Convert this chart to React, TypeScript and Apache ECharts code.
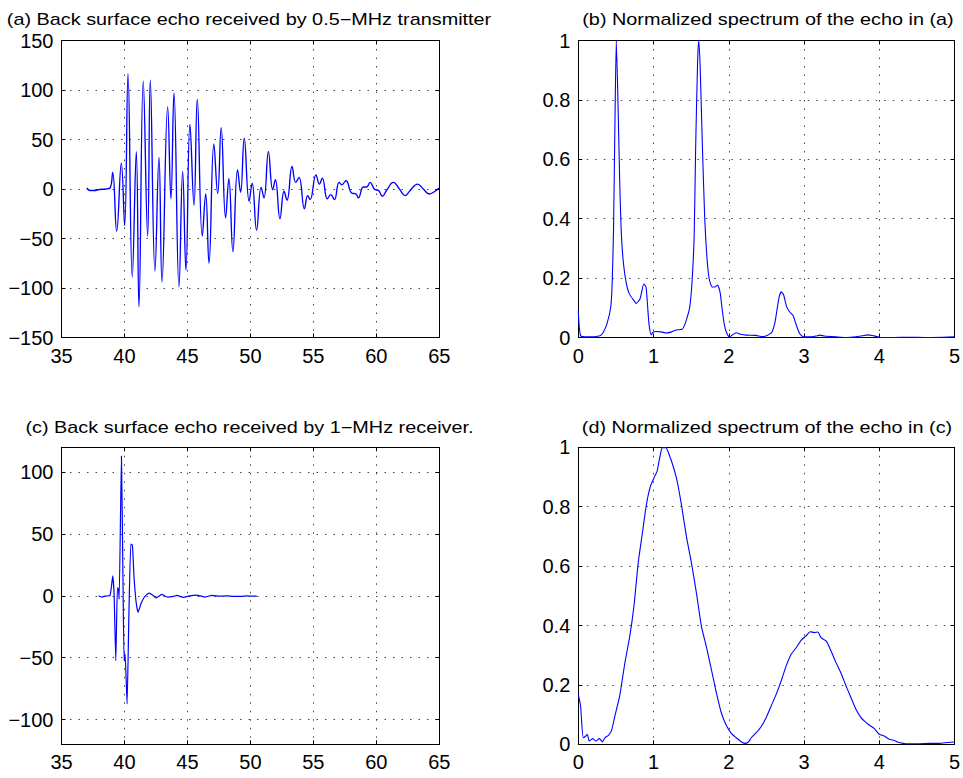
import React, { useEffect, useRef } from "react";
import * as echarts from "echarts";

const FONT = "'Liberation Sans', Arial, Helvetica, sans-serif";

// ---- Panel (a): back surface echo, 0.5-MHz transmitter ----
const echoATime = [
  37.0, 37.3, 37.6, 38.0, 38.5, 38.85, 39.06, 39.38, 39.75, 40.01, 40.28, 40.62, 40.94, 41.15, 41.49, 41.84,
  42.05, 42.42, 42.74, 42.98, 43.43, 43.69, 43.93, 44.33, 44.62, 44.88, 45.2, 45.52, 45.78, 46.18, 46.45, 46.71,
  47.1, 47.4, 47.68, 48.03, 48.29, 48.61, 48.98, 49.22, 49.51, 49.9, 50.14, 50.49, 50.85, 51.08, 51.43, 51.77,
  51.98, 52.35, 52.67, 52.91, 53.31, 53.6, 53.86, 54.29, 54.55, 54.74, 55.21, 55.48, 55.71, 56.11, 56.38, 56.67,
  57.04, 57.25, 57.59, 58.04, 58.39, 58.57, 58.97, 59.23, 59.5, 59.89, 60.16, 60.48, 60.82, 61.35, 61.83, 62.28,
  62.67, 63.28, 63.73, 64.21, 64.66, 64.97,
];
const echoAAmp = [
  1, -1.5, -1.5, -0.5, 0, 1, 16.7, -42.6, 26, -36.9, 116.6, -88.8, 37.8, -119, 109, -47.6,
  109.8, -82.8, 32, -93.9, 83, -10, 97, -98.9, 17.7, -82, 65.3, -16.5, 90.7, -47.6, -5, -75,
  45.2, -4.7, 62, -29, 10.4, -63.3, 19.4, -3.4, 51.3, -12.4, 6, -41.6, 1.7, -9, 37.7, -0.7,
  9.3, -30, -2.3, -11.3, 22.7, 6.7, 11.7, -20, -6.7, -10.7, 14.3, 5, 11, -10, -5.7, -10.7,
  6.7, 4.3, 8.3, -4, -5, -9, 2, 2, 6.7, -0.7, -1.3, -7.3, -1.3, 6.7, 0, -6.7,
  -1.7, 5, 0, -5, -2.3, 1,
];

// ---- Panel (b): normalized spectrum of (a) ----
const specBFreq = [
  0, 0.03, 0.11, 0.29, 0.33, 0.38, 0.43, 0.45, 0.468, 0.486, 0.505, 0.525, 0.55, 0.57, 0.6, 0.64,
  0.68, 0.74, 0.77, 0.82, 0.84, 0.87, 0.9, 0.92, 0.94, 0.97, 0.99, 1.03, 1.1, 1.17, 1.24, 1.3,
  1.38, 1.41, 1.44, 1.48, 1.51, 1.54, 1.56, 1.585, 1.6, 1.62, 1.65, 1.68, 1.71, 1.74, 1.78, 1.82,
  1.85, 1.885, 1.91, 1.94, 1.97, 2.01, 2.05, 2.1, 2.16, 2.23, 2.36, 2.45, 2.5, 2.57, 2.61, 2.64,
  2.67, 2.7, 2.73, 2.77, 2.81, 2.855, 2.9, 2.94, 2.99, 3.07, 3.16, 3.21, 3.27, 3.43, 3.56, 3.69,
  3.78, 3.85, 3.91, 4.0, 4.18, 4.4, 4.62, 4.85, 5.0,
];
const specBMag = [
  0.09, 0.006, 0.002, 0.006, 0.017, 0.045, 0.1, 0.18, 0.36, 0.7, 1.0, 0.82, 0.53, 0.36, 0.25, 0.18,
  0.146, 0.124, 0.115, 0.13, 0.15, 0.18, 0.17, 0.11, 0.045, 0.009, 0.017, 0.02, 0.019, 0.015, 0.019, 0.025,
  0.028, 0.04, 0.062, 0.1, 0.18, 0.34, 0.64, 0.92, 1.0, 0.91, 0.64, 0.405, 0.27, 0.197, 0.17, 0.17,
  0.177, 0.152, 0.1, 0.045, 0.017, 0.002, 0.009, 0.016, 0.011, 0.008, 0.007, 0.003, 0.006, 0.017, 0.046, 0.091,
  0.137, 0.154, 0.143, 0.103, 0.086, 0.074, 0.04, 0.014, 0.002, 0.002, 0.005, 0.008, 0.005, 0.002, 0, 0.002,
  0.006, 0.009, 0.007, 0.001, 0, 0.001, 0, 0.001, 0.002,
];

// ---- Panel (c): back surface echo, 1-MHz receiver ----
const echoCTime = [
  37.94, 38.2, 38.47, 38.86, 39.07, 39.18, 39.31, 39.44, 39.52, 39.58, 39.76, 39.89, 39.97, 40.05, 40.21, 40.34,
  40.5, 40.63, 40.77, 40.93, 41.08, 41.3, 41.51, 41.72, 41.98, 42.25, 42.51, 42.96, 43.41, 43.89, 44.15, 44.68,
  45.2, 45.74, 46.0, 46.4, 46.93, 47.6, 48.12, 48.65, 49.31, 49.71, 50.1, 50.5,
];
const echoCAmp = [
  0, -1, -0.3, 0.5, 16.1, 0, -52.4, 6.7, 5.4, -2.7, 112.9, 5.4, -52.4, -47, -87.4, -21.5,
  41.7, 40.9, 13.4, -5.4, -13.4, -6.7, -2.2, 0.5, 2.2, 0.5, -1.6, 1.1, -1.1, -0.5, 0.3, -1.3,
  0, 0.5, 0, -1, 0.3, -0.3, 0, -0.5, -0.5, 0, -0.3, -0.3,
];

// ---- Panel (d): normalized spectrum of (c) ----
const specDFreq = [
  0, 0.03, 0.066, 0.1, 0.12, 0.146, 0.19, 0.234, 0.28, 0.32, 0.354, 0.4, 0.44, 0.486, 0.55, 0.62,
  0.685, 0.74, 0.796, 0.853, 0.906, 0.96, 1.017, 1.048, 1.083, 1.118, 1.163, 1.207, 1.26, 1.313, 1.37, 1.437,
  1.503, 1.57, 1.636, 1.7, 1.768, 1.835, 1.9, 1.967, 2.034, 2.1, 2.153, 2.21, 2.255, 2.3, 2.365, 2.43,
  2.498, 2.564, 2.63, 2.697, 2.763, 2.83, 2.896, 2.962, 3.028, 3.08, 3.14, 3.183, 3.227, 3.294, 3.36, 3.426,
  3.49, 3.56, 3.625, 3.69, 3.758, 3.8, 3.87, 3.935, 4.0, 4.067, 4.134, 4.2, 4.266, 4.355, 4.53, 4.664,
  4.8, 4.907, 5.0,
];
const specDMag = [
  0.168, 0.129, 0.022, 0.028, 0.034, 0.011, 0.019, 0.011, 0.019, 0.008, 0.022, 0.03, 0.045, 0.095, 0.163, 0.275,
  0.365, 0.466, 0.61, 0.713, 0.808, 0.87, 0.903, 0.92, 0.966, 0.999, 0.999, 0.976, 0.937, 0.887, 0.808, 0.7,
  0.612, 0.51, 0.398, 0.331, 0.253, 0.174, 0.107, 0.064, 0.037, 0.022, 0.011, 0.003, 0.006, 0.022, 0.039, 0.059,
  0.09, 0.129, 0.168, 0.213, 0.264, 0.303, 0.325, 0.35, 0.365, 0.379, 0.376, 0.378, 0.359, 0.348, 0.314, 0.275,
  0.241, 0.196, 0.157, 0.118, 0.09, 0.079, 0.064, 0.053, 0.034, 0.028, 0.017, 0.013, 0.006, 0.002, 0.002, 0.003,
  0.003, 0.006, 0.008,
];

// ---- Titles & ticks ----
const titles = [
  "(a) Back surface echo received by 0.5\u2212MHz transmitter",
  "(b) Normalized spectrum of the echo in (a)",
  "(c) Back surface echo received by 1\u2212MHz receiver.",
  "(d) Normalized spectrum of the echo in (c)",
];
const echoCYTicks = [-100, -50, 0, 50, 100];

const zip = (xs: number[], ys: number[]) => xs.map((x, i) => [x, ys[i]]);

const fmt = (v: number) => String(v).replace("-", "\u2212");

export default function App() {
  const ref = useRef<HTMLDivElement>(null);

  useEffect(() => {
    document.body.style.margin = "0";
    if (!ref.current) return;
    const chart = echarts.init(ref.current, undefined, { renderer: "svg" });

    const grids = [
      { left: 61.5, top: 40.5, width: 377.8, height: 297 },
      { left: 578.3, top: 40.5, width: 377.2, height: 297 },
      { left: 61.5, top: 447.3, width: 377.8, height: 297 },
      { left: 578.3, top: 447.3, width: 377.2, height: 297 },
    ];
    const xr = [
      { min: 35, max: 65, interval: 5 },
      { min: 0, max: 5, interval: 1 },
      { min: 35, max: 65, interval: 5 },
      { min: 0, max: 5, interval: 1 },
    ];
    const yr: any[] = [
      { min: -150, max: 150, interval: 50 },
      { min: 0, max: 1, interval: 0.2 },
      { min: -120, max: 120, custom: echoCYTicks },
      { min: 0, max: 1, interval: 0.2 },
    ];

    const split = {
      show: true,
      lineStyle: { color: "#444", width: 1, type: [1.5, 7] as any },
    };
    const line = { show: true, onZero: false, lineStyle: { color: "#000", width: 1 } };
    const label = { color: "#000", fontSize: 20, fontFamily: FONT };

    const xAxis: any[] = [];
    const yAxis: any[] = [];
    for (let i = 0; i < 4; i++) {
      xAxis.push({
        type: "value", gridIndex: i, position: "bottom", min: xr[i].min, max: xr[i].max, interval: xr[i].interval,
        axisLine: line, axisTick: { show: true, inside: true, length: 4, lineStyle: { color: "#000" } },
        axisLabel: { ...label, margin: 8, formatter: fmt }, splitLine: split,
      });
      xAxis.push({
        type: "value", gridIndex: i, position: "top", min: xr[i].min, max: xr[i].max, interval: xr[i].interval,
        axisLine: line, axisTick: { show: true, inside: true, length: 4, lineStyle: { color: "#000" } },
        axisLabel: { show: false }, splitLine: { show: false },
      });
      const y = yr[i];
      const yBase: any = { type: "value", gridIndex: i, min: y.min, max: y.max };
      if (y.interval) yBase.interval = y.interval;
      const tick: any = { show: true, inside: true, length: 4, lineStyle: { color: "#000" } };
      const lab: any = { ...label, margin: 8, formatter: fmt };
      if (y.custom) {
        tick.customValues = y.custom;
        lab.customValues = y.custom;
      }
      yAxis.push({ ...yBase, position: "left", axisLine: line, axisTick: tick, axisLabel: lab, splitLine: split });
      yAxis.push({
        ...yBase, position: "right", axisLine: line, axisTick: { ...tick },
        axisLabel: { show: false, customValues: y.custom }, splitLine: { show: false },
      });
    }

    const datasets = [
      { data: zip(echoATime, echoAAmp), smooth: 0.45, width: 1.35 },
      { data: zip(specBFreq, specBMag), smooth: 0.2, width: 1.1 },
      { data: zip(echoCTime, echoCAmp), smooth: 0.15, width: 1.2 },
      { data: zip(specDFreq, specDMag), smooth: 0.2, width: 1.1 },
    ];

    const series = datasets.map((d, i) => ({
      type: "line",
      xAxisIndex: i * 2,
      yAxisIndex: i * 2,
      data: d.data,
      smooth: d.smooth,
      showSymbol: false,
      symbol: "none",
      lineStyle: { color: "#0000ff", width: d.width },
      clip: true,
    }));

    const titlePos = [
      [249, 20],
      [768, 20],
      [249.5, 428],
      [767, 428],
    ];
    const graphic = titles.map((t, i) => ({
      type: "text",
      x: titlePos[i][0],
      y: titlePos[i][1],
      scaleX: 1.24,
      style: {
        text: t,
        fill: "#000",
        font: `16px ${FONT}`,
        align: "center",
        verticalAlign: "middle",
      },
    }));

    chart.setOption({
      animation: false,
      backgroundColor: "#fff",
      grid: grids,
      xAxis,
      yAxis,
      series,
      graphic,
    });
    return () => chart.dispose();
  }, []);

  return <div ref={ref} style={{ width: 963, height: 778 }} />;
}
